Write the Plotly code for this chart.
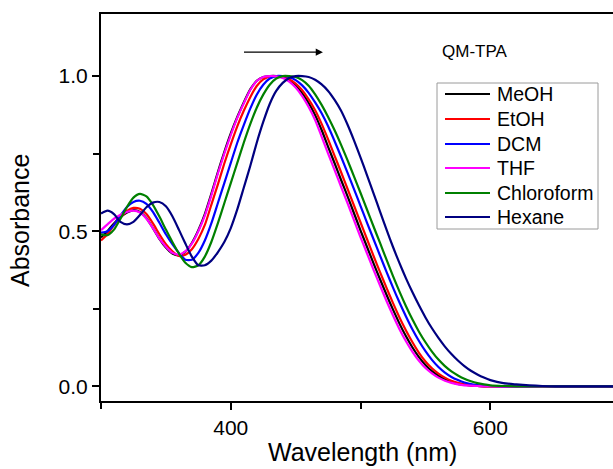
import plotly.graph_objects as go

wavelength = [300, 305, 310, 315, 320, 325, 330, 335, 340, 345,
              350, 355, 360, 365, 370, 375, 380, 385, 390, 395,
              400, 405, 410, 415, 420, 425, 430, 435, 440, 445,
              450, 455, 460, 465, 470, 475, 480, 485, 490, 495,
              500, 505, 510, 515, 520, 525, 530, 535, 540, 545,
              550, 555, 560, 565, 570, 575, 580, 585, 590, 595,
              600, 610, 620, 630, 640, 650, 700]

meoh = [0.480, 0.500, 0.525, 0.545, 0.560, 0.568, 0.562, 0.542, 0.510, 0.475,
        0.447, 0.428, 0.422, 0.434, 0.462, 0.503, 0.555, 0.620, 0.690, 0.755,
        0.815, 0.868, 0.915, 0.957, 0.985, 0.997, 1.000, 1.000, 0.996, 0.986,
        0.969, 0.945, 0.913, 0.874, 0.826, 0.772, 0.719, 0.665, 0.612, 0.557,
        0.502, 0.449, 0.396, 0.345, 0.295, 0.247, 0.202, 0.161, 0.125, 0.094,
        0.069, 0.049, 0.034, 0.022, 0.014, 0.008, 0.005, 0.003, 0.001, 0.000,
        0.000, 0.000, 0.000, 0.000, 0.000, 0.000, 0.000]

etoh = [0.470, 0.490, 0.520, 0.545, 0.565, 0.575, 0.572, 0.555, 0.525, 0.490,
        0.458, 0.435, 0.420, 0.424, 0.442, 0.475, 0.520, 0.585, 0.650, 0.718,
        0.780, 0.838, 0.888, 0.932, 0.968, 0.989, 0.999, 1.000, 0.998, 0.990,
        0.976, 0.954, 0.925, 0.890, 0.846, 0.796, 0.743, 0.690, 0.636, 0.582,
        0.528, 0.474, 0.420, 0.368, 0.317, 0.268, 0.222, 0.180, 0.142, 0.108,
        0.080, 0.058, 0.041, 0.028, 0.018, 0.011, 0.006, 0.003, 0.001, 0.000,
        0.000, 0.000, 0.000, 0.000, 0.000, 0.000, 0.000]

dcm = [0.495, 0.500, 0.520, 0.550, 0.578, 0.594, 0.598, 0.588, 0.562, 0.527,
       0.490, 0.458, 0.430, 0.408, 0.408, 0.430, 0.470, 0.525, 0.590, 0.655,
       0.720, 0.785, 0.842, 0.895, 0.940, 0.972, 0.992, 1.000, 1.000, 0.997,
       0.987, 0.970, 0.946, 0.915, 0.880, 0.838, 0.790, 0.740, 0.688, 0.635,
       0.581, 0.527, 0.474, 0.421, 0.369, 0.318, 0.270, 0.225, 0.183, 0.146,
       0.113, 0.085, 0.062, 0.044, 0.030, 0.020, 0.012, 0.007, 0.004, 0.002,
       0.001, 0.000, 0.000, 0.000, 0.000, 0.000, 0.000]

thf = [0.503, 0.522, 0.540, 0.553, 0.562, 0.566, 0.560, 0.540, 0.510, 0.476,
       0.450, 0.430, 0.425, 0.435, 0.460, 0.500, 0.550, 0.615, 0.685, 0.750,
       0.810, 0.865, 0.912, 0.955, 0.984, 0.997, 1.000, 0.999, 0.994, 0.982,
       0.963, 0.935, 0.900, 0.858, 0.805, 0.750, 0.697, 0.643, 0.590, 0.535,
       0.480, 0.428, 0.375, 0.325, 0.275, 0.228, 0.184, 0.145, 0.111, 0.082,
       0.059, 0.042, 0.028, 0.018, 0.011, 0.006, 0.003, 0.002, 0.001, 0.000,
       0.000, 0.000, 0.000, 0.000, 0.000, 0.000, 0.000]

chloroform = [0.490, 0.487, 0.505, 0.540, 0.578, 0.608, 0.620, 0.612, 0.585, 0.547,
              0.505, 0.465, 0.428, 0.398, 0.384, 0.390, 0.418, 0.465, 0.525, 0.590,
              0.655, 0.720, 0.785, 0.845, 0.898, 0.940, 0.972, 0.992, 1.000, 1.000,
              0.997, 0.987, 0.969, 0.941, 0.907, 0.868, 0.825, 0.778, 0.728, 0.676,
              0.623, 0.569, 0.515, 0.462, 0.408, 0.355, 0.305, 0.258, 0.215, 0.176,
              0.142, 0.112, 0.086, 0.065, 0.048, 0.035, 0.024, 0.016, 0.010, 0.006,
              0.003, 0.001, 0.000, 0.000, 0.000, 0.000, 0.000]

hexane = [0.557, 0.566, 0.555, 0.530, 0.522, 0.530, 0.552, 0.577, 0.592, 0.594,
          0.580, 0.548, 0.505, 0.460, 0.418, 0.390, 0.390, 0.405, 0.432, 0.465,
          0.510, 0.570, 0.640, 0.710, 0.785, 0.852, 0.910, 0.952, 0.978, 0.994,
          1.000, 1.000, 0.997, 0.988, 0.973, 0.952, 0.923, 0.888, 0.843, 0.792,
          0.737, 0.680, 0.622, 0.563, 0.505, 0.449, 0.397, 0.348, 0.303, 0.261,
          0.222, 0.187, 0.156, 0.128, 0.104, 0.083, 0.065, 0.050, 0.038, 0.028,
          0.020, 0.010, 0.006, 0.003, 0.001, 0.000, 0.000]

series_names = ["MeOH", "EtOH", "DCM", "THF", "Chloroform", "Hexane"]
series_values = [meoh, etoh, dcm, thf, chloroform, hexane]
series_colors = ["#000000", "#ff0000", "#0000ff", "#ff00ff", "#008000", "#000080"]

x_tickvals = [400, 600]
y_tickvals = [0.0, 0.5, 1.0]
y_ticktext = ["0.0", "0.5", "1.0"]

FONT = "Arial, Liberation Sans, sans-serif"
W, H = 613, 469
L, R, T, B = 101, 0, 14, 68
PW, PH = W - L - R, H - T - B


def px(xp):
    return (xp - L) / PW


def py(yp):
    return (H - B - yp) / PH


fig = go.Figure()
for name, vals, col in zip(series_names, series_values, series_colors):
    fig.add_trace(go.Scatter(
        x=wavelength, y=vals, mode="lines", name=name,
        line=dict(color=col, width=2.2, shape="spline", smoothing=0.6),
    ))

fig.update_layout(
    width=W, height=H,
    margin=dict(l=L, r=R, t=T, b=B),
    paper_bgcolor="white", plot_bgcolor="white",
    font=dict(family=FONT, color="black"),
    showlegend=False,
)

fig.update_xaxes(
    range=[300, 694.5], showgrid=False, zeroline=False,
    showline=True, linecolor="black", linewidth=2, mirror=True,
    ticks="outside", ticklen=7, tickwidth=2, tickcolor="black",
    tickvals=x_tickvals, tickfont=dict(size=21, family=FONT),
    minor=dict(ticks="outside", tickvals=[300, 500, 700], ticklen=6, tickwidth=2, tickcolor="black"),
)
fig.update_yaxes(
    range=[-0.0474, 1.2], showgrid=False, zeroline=False,
    showline=True, linecolor="black", linewidth=2, mirror=False,
    ticks="outside", ticklen=7, tickwidth=2, tickcolor="black",
    tickvals=y_tickvals, ticktext=y_ticktext, tickfont=dict(size=21, family=FONT),
    minor=dict(ticks="outside", tickvals=[0.25, 0.75], ticklen=6, tickwidth=2, tickcolor="black"),
)

# legend box (drawn manually to match the original's sample length and spacing)
fig.add_shape(type="rect", xref="paper", yref="paper",
              x0=px(437), x1=px(598), y0=py(229), y1=py(83),
              line=dict(color="#9a9a9a", width=1), fillcolor="white", layer="above")
legend_rows = [94, 119, 144, 168, 193, 217]
for name, col, yr in zip(series_names, series_colors, legend_rows):
    fig.add_shape(type="line", xref="paper", yref="paper",
                  x0=px(445), x1=px(490), y0=py(yr), y1=py(yr),
                  line=dict(color=col, width=2.2), layer="above")
    fig.add_annotation(text=name, xref="paper", yref="paper",
                       x=px(495), y=py(yr), xanchor="left", yanchor="middle",
                       showarrow=False, font=dict(size=19.5, family=FONT, color="black"))

# axis titles
fig.add_annotation(text="Wavelength (nm)", xref="paper", yref="paper",
                   x=px(362), y=py(452), xanchor="center", yanchor="middle",
                   showarrow=False, font=dict(size=25, family=FONT, color="black"))
fig.add_annotation(text="Absorbance", xref="paper", yref="paper",
                   x=px(20), y=py(221), xanchor="center", yanchor="middle",
                   textangle=-90, showarrow=False, font=dict(size=25, family=FONT, color="black"))

# label and arrow
fig.add_annotation(text="QM-TPA", xref="paper", yref="paper",
                   x=px(440), y=py(52), xanchor="left", yanchor="middle",
                   showarrow=False, font=dict(size=17, family=FONT, color="black"))
fig.add_annotation(x=471, y=1.077, ax=409, ay=1.077, xref="x", yref="y", axref="x", ayref="y",
                   text="", showarrow=True, arrowhead=2, arrowsize=1.2, arrowwidth=1.2,
                   arrowcolor="black")

fig.write_html("out.html", config={"displayModeBar": False},
               post_script="document.body.style.margin='0';document.body.style.overflow='hidden';")
